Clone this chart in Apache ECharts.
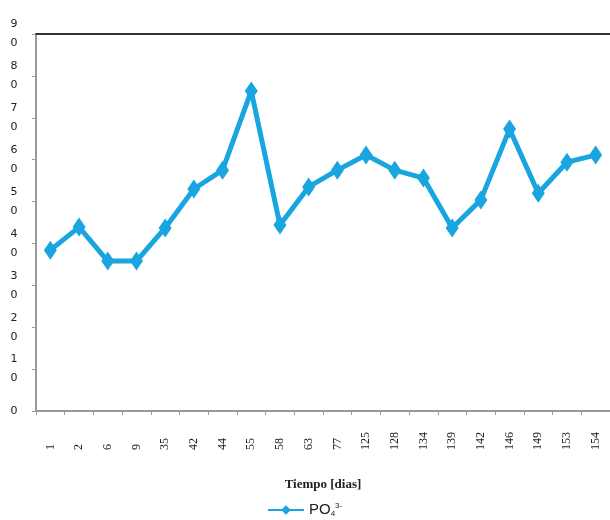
<!DOCTYPE html>
<html><head><meta charset="utf-8">
<script src="https://cdn.jsdelivr.net/npm/echarts@6/dist/echarts.min.js"></script>
<style>html,body{margin:0;padding:0;background:#fff}#c{width:610px;height:520px}</style>
</head><body><div id="c"></div>
<script>
const categories = ['1','2','6','9','35','42','44','55','58','63','77','125','128','134','139','142','146','149','153','154'];
const po4 = [38.4,43.9,35.8,35.8,43.7,53.0,57.5,76.4,44.4,53.5,57.5,61.1,57.5,55.6,43.7,50.4,67.3,52.0,59.4,61.1];
const yTicks = [0,10,20,30,40,50,60,70,80,90];
const seriesName = 'PO4';

const chart = echarts.init(document.getElementById('c'));
chart.setOption({
  animation: false,
  backgroundColor: '#fff',
  grid: {left: 36, top: 34, width: 584, bottom: 109, containLabel: false},
  legend: {
    data: [seriesName], left: 262, top: 497, itemWidth: 36, itemHeight: 12, itemGap: 4,
    formatter: () => 'PO{sub|4}{sup|3-}',
    textStyle: {fontFamily: 'Liberation Sans, Arial', fontSize: 15, color: '#222',
      rich: {sub: {fontSize: 8, verticalAlign: 'bottom', padding: [8,0,0,0], fontFamily: 'Liberation Sans'},
             sup: {fontSize: 8, verticalAlign: 'top', padding: [0,0,8,0], fontFamily: 'Liberation Sans'}}}
  },
  xAxis: [{
    type: 'category', data: categories, boundaryGap: true,
    name: 'Tiempo [dias]', nameLocation: 'middle', nameGap: 67,
    nameTextStyle: {fontFamily: 'Liberation Serif', fontWeight: 'bold', fontSize: 13, color: '#222'},
    axisLine: {lineStyle: {color: '#999', width: 2}},
    axisTick: {show: true, length: 4, lineStyle: {color: '#999'}},
    axisLabel: {rotate: 90, align: 'left', margin: 39, fontFamily: 'Liberation Serif', fontSize: 12, color: '#222'}
  }, {
    type: 'category', data: categories, position: 'top',
    axisLine: {lineStyle: {color: '#333', width: 2}},
    axisTick: {show: false}, axisLabel: {show: false}
  }],
  yAxis: {
    type: 'value', min: 0, max: 90, interval: 10,
    splitLine: {show: false},
    axisLine: {show: true, lineStyle: {color: '#999', width: 2}},
    axisTick: {show: true, length: 4, lineStyle: {color: '#999'}},
    axisLabel: {
      margin: 22, align: 'center', lineHeight: 19,
      fontFamily: 'DejaVu Sans', fontSize: 11, color: '#222',
      formatter: v => yTicks.includes(v) ? (v === 0 ? '0' : String(v).split('').join('\n')) : ''
    }
  },
  series: [{
    name: seriesName, type: 'line', data: po4,
    lineStyle: {color: '#19a5df', width: 5},
    itemStyle: {color: '#19a5df'},
    symbol: 'diamond', symbolSize: [13, 19]
  }]
});
</script></body></html>
